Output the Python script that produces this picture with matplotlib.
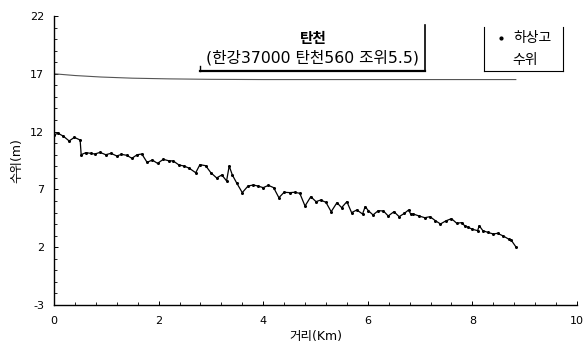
import matplotlib
matplotlib.use("Agg")
import matplotlib.pyplot as plt
from matplotlib.ticker import MultipleLocator
from matplotlib.lines import Line2D

plt.rcParams['font.family'] = ['DejaVu Sans', 'Noto Sans CJK KR']
plt.rcParams['axes.unicode_minus'] = False

# 하상고 (river bed elevation) along the reach
bed_km = [0.0, 0.08, 0.18, 0.29, 0.39, 0.5, 0.52, 0.61, 0.70, 0.78, 0.88, 0.99,
          1.09, 1.2, 1.29, 1.39, 1.49, 1.59, 1.68, 1.78, 1.88, 1.98, 2.09, 2.19,
          2.28, 2.39, 2.49, 2.59, 2.71, 2.79, 2.9, 3.0, 3.11, 3.21, 3.3, 3.35,
          3.41, 3.49, 3.6, 3.71, 3.81, 3.9, 4.0, 4.1, 4.2, 4.3, 4.4, 4.51, 4.6,
          4.7, 4.8, 4.91, 5.01, 5.1, 5.2, 5.3, 5.41, 5.5, 5.6, 5.69, 5.79, 5.9,
          5.95, 6.01, 6.1, 6.2, 6.3, 6.39, 6.5, 6.6, 6.7, 6.78, 6.82, 6.87, 6.98,
          7.09, 7.19, 7.29, 7.39, 7.49, 7.6, 7.7, 7.8, 7.85, 7.92, 8.0, 8.1, 8.13,
          8.2, 8.29, 8.4, 8.48, 8.59, 8.7, 8.74, 8.83]
bed_m = [11.73, 11.85, 11.6, 11.19, 11.5, 11.27, 10.0, 10.18, 10.12, 10.06, 10.2,
         10.0, 10.12, 9.89, 10.03, 9.95, 9.69, 10.0, 10.06, 9.34, 9.54, 9.25, 9.6,
         9.48, 9.46, 9.11, 9.02, 8.82, 8.44, 9.14, 9.05, 8.44, 7.99, 8.25, 7.73,
         9.02, 8.25, 7.58, 6.72, 7.29, 7.38, 7.29, 7.15, 7.35, 7.15, 6.28, 6.75,
         6.72, 6.75, 6.66, 5.56, 6.37, 5.94, 6.08, 5.88, 5.07, 5.85, 5.42, 5.94,
         4.99, 5.22, 4.87, 5.51, 5.16, 4.79, 5.16, 5.13, 4.7, 5.07, 4.64, 4.93,
         5.22, 4.87, 4.87, 4.7, 4.55, 4.64, 4.3, 4.01, 4.27, 4.47, 4.07, 4.13,
         3.86, 3.72, 3.55, 3.43, 3.86, 3.43, 3.29, 3.14, 3.2, 2.97, 2.68, 2.62, 2.04]

# 수위 (water level)
wl_km = [0.0, 0.4, 0.9, 1.5, 2.2, 3.0, 4.0, 5.0, 6.0, 7.0, 8.0, 8.83]
wl_m = [17.0, 16.85, 16.72, 16.62, 16.56, 16.52, 16.5, 16.5, 16.5, 16.5, 16.5, 16.5]

y_ticks = [-3, 2, 7, 12, 17, 22]
title_line1 = "탄천"
title_line2 = "(한강37000 탄천560 조위5.5)"
legend_bed = "하상고"
legend_wl = "수위"
xlabel = "거리(Km)"
ylabel = "수위(m)"

fig = plt.figure(figsize=(5.88, 3.49), dpi=100)
ax = fig.add_axes([0.0918, 0.1261, 0.8895, 0.8281])

ax.plot(wl_km, wl_m, color='#555555', lw=0.8)
ax.plot(bed_km, bed_m, color='black', lw=0.9, marker='o', ms=2.2,
        markerfacecolor='black', markeredgewidth=0)

ax.set_xlim(0, 10)
ax.set_ylim(-3, 22)
ax.xaxis.set_major_locator(MultipleLocator(2))
ax.xaxis.set_minor_locator(MultipleLocator(0.4))
ax.yaxis.set_minor_locator(MultipleLocator(1))
ax.set_yticks(y_ticks)
ax.tick_params(which='both', direction='in', labelsize=8, color='black')
ax.tick_params(which='major', length=3, width=0.7)
ax.tick_params(which='minor', length=2, width=0.6)
ax.tick_params(axis='x', pad=8)
ax.tick_params(axis='y', pad=7)

for s in ['top', 'right']:
    ax.spines[s].set_visible(False)
ax.spines['left'].set_linewidth(1.0)
ax.spines['bottom'].set_linewidth(1.0)

ax.set_xlabel(xlabel, fontsize=9, labelpad=3)
ax.set_ylabel(ylabel, fontsize=9, labelpad=5)

# Title box
tx0, tx1 = 200 / 588, 425 / 588
ty0, ty1 = 1 - 71 / 349, 1 - 25 / 349
fig.add_artist(Line2D([tx0, tx1], [ty0, ty0], transform=fig.transFigure, color='black', lw=1.6))
fig.add_artist(Line2D([tx1, tx1], [ty0, ty1], transform=fig.transFigure, color='black', lw=1.2))
fig.add_artist(Line2D([tx0, tx0], [ty0, ty0 + 0.015], transform=fig.transFigure, color='black', lw=1.0))
fig.text(313 / 588, 1 - 38 / 349, title_line1, ha='center', va='center', fontsize=10.5,
         fontweight='bold')
fig.text(312 / 588, 1 - 58 / 349, title_line2, ha='center', va='center', fontsize=11.3)

# Legend box
lx0, lx1 = 484 / 588, 563 / 588
ly0, ly1 = 1 - 71 / 349, 1 - 27 / 349
fig.add_artist(Line2D([lx0, lx1], [ly0, ly0], transform=fig.transFigure, color='black', lw=0.8))
fig.add_artist(Line2D([lx0, lx0], [ly0, ly1], transform=fig.transFigure, color='black', lw=0.8))
fig.add_artist(Line2D([lx1, lx1], [ly0, ly1], transform=fig.transFigure, color='black', lw=0.8))
fig.add_artist(Line2D([501 / 588], [1 - 38 / 349], transform=fig.transFigure, color='black',
                      marker='o', ms=2, lw=0))
fig.text(533 / 588, 1 - 38 / 349, legend_bed, ha='center', va='center', fontsize=10)
fig.text(525 / 588, 1 - 60 / 349, legend_wl, ha='center', va='center', fontsize=10)

fig.savefig("out.png", dpi=100)
